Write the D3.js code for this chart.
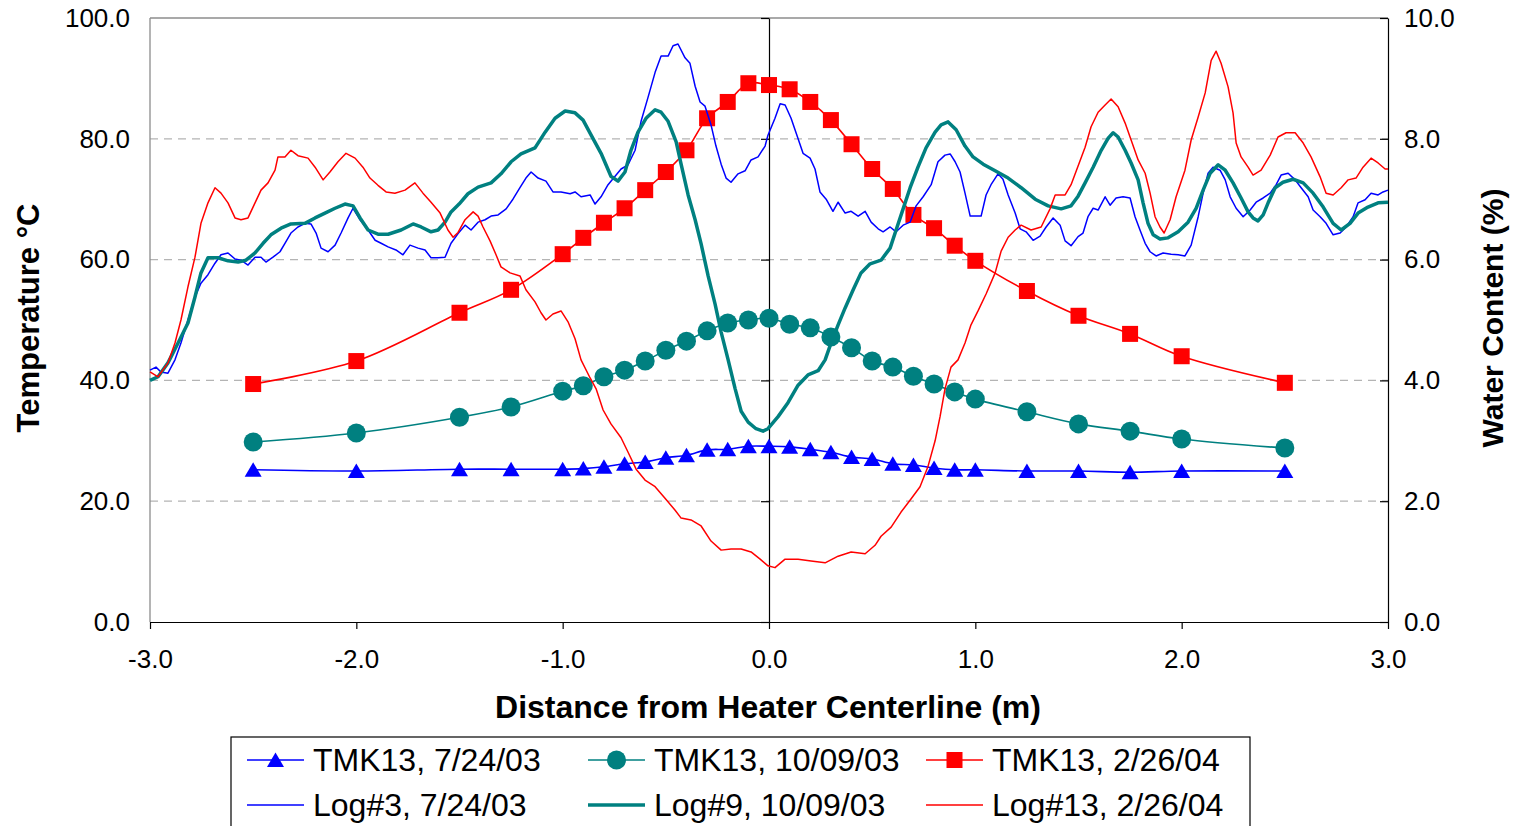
<!DOCTYPE html>
<html>
<head>
<meta charset="utf-8">
<script src="https://cdn.jsdelivr.net/npm/d3@7"></script>
<style>
  body { margin: 0; background: #fff; }
  svg { font-family: "Liberation Sans", Arial, sans-serif; }
</style>
</head>
<body>
<svg id="chart" width="1520" height="826"></svg>
<script>
// distance of the thermocouple readings (m)
const tmkX = [-2.5, -2.0, -1.5, -1.25, -1.0, -0.9, -0.8, -0.7, -0.6, -0.5, -0.4, -0.3, -0.2, -0.1, 0.0,
              0.1, 0.2, 0.3, 0.4, 0.5, 0.6, 0.7, 0.8, 0.9, 1.0, 1.25, 1.5, 1.75, 2.0, 2.5];

// temperatures (deg C)
const tmk0724 = [25.2, 25.0, 25.3, 25.3, 25.3, 25.4, 25.7, 26.2, 26.5, 27.2, 27.6, 28.5, 28.6, 29.1, 29.1,
                 29.0, 28.6, 28.1, 27.3, 27.0, 26.2, 26.0, 25.5, 25.2, 25.2, 25.0, 25.0, 24.8, 25.0, 25.0];
const tmk1009 = [29.8, 31.3, 33.9, 35.6, 38.2, 39.1, 40.6, 41.7, 43.2, 45.0, 46.5, 48.2, 49.5, 50.0, 50.3,
                 49.3, 48.7, 47.2, 45.4, 43.2, 42.2, 40.7, 39.4, 38.1, 36.9, 34.8, 32.8, 31.6, 30.3, 28.8];
const tmk0226 = [39.4, 43.2, 51.2, 55.0, 60.9, 63.6, 66.1, 68.5, 71.5, 74.5, 78.1, 83.4, 86.1, 89.2, 88.9,
                 88.2, 86.1, 83.1, 79.1, 75.0, 71.7, 67.4, 65.2, 62.3, 59.8, 54.8, 50.7, 47.7, 44.0, 39.6];

// water content logs: [distance (m), water content (%)]
const log3 = [
  [-3.000,4.17],[-2.971,4.22],[-2.947,4.14],[-2.913,4.12],[-2.879,4.34],[-2.850,4.62],[-2.816,5.00],[-2.782,5.38],
  [-2.753,5.61],[-2.719,5.75],[-2.685,5.94],[-2.656,6.08],[-2.622,6.11],[-2.588,6.01],[-2.559,5.99],[-2.525,5.91],
  [-2.491,6.04],[-2.462,6.04],[-2.438,5.96],[-2.404,6.04],[-2.370,6.13],[-2.346,6.27],[-2.317,6.44],[-2.283,6.54],
  [-2.249,6.60],[-2.220,6.59],[-2.195,6.44],[-2.171,6.19],[-2.137,6.13],[-2.103,6.24],[-2.074,6.44],[-2.040,6.69],
  [-2.016,6.85],[-1.982,6.66],[-1.943,6.49],[-1.909,6.32],[-1.880,6.27],[-1.846,6.21],[-1.808,6.16],[-1.774,6.08],
  [-1.740,6.24],[-1.701,6.19],[-1.667,6.16],[-1.638,6.03],[-1.604,6.03],[-1.570,6.04],[-1.541,6.27],[-1.507,6.43],
  [-1.473,6.57],[-1.444,6.49],[-1.410,6.62],[-1.376,6.66],[-1.347,6.72],[-1.313,6.74],[-1.274,6.84],[-1.241,7.00],
  [-1.207,7.19],[-1.178,7.35],[-1.153,7.45],[-1.119,7.35],[-1.081,7.30],[-1.047,7.12],[-1.008,7.12],[-0.964,7.09],
  [-0.940,7.12],[-0.911,7.04],[-0.867,7.07],[-0.843,6.92],[-0.814,7.04],[-0.780,7.24],[-0.746,7.38],[-0.717,7.50],
  [-0.683,7.57],[-0.649,7.81],[-0.620,8.29],[-0.586,8.69],[-0.552,9.10],[-0.523,9.37],[-0.489,9.37],[-0.465,9.54],
  [-0.441,9.57],[-0.407,9.34],[-0.383,9.25],[-0.358,8.87],[-0.334,8.61],[-0.310,8.54],[-0.281,8.23],[-0.257,7.88],
  [-0.232,7.58],[-0.208,7.35],[-0.184,7.28],[-0.150,7.42],[-0.116,7.47],[-0.087,7.65],[-0.053,7.70],[-0.019,7.88],
  [-0.005,8.06],[0.029,8.34],[0.054,8.58],[0.078,8.56],[0.107,8.34],[0.141,8.00],[0.165,7.76],[0.199,7.68],
  [0.223,7.50],[0.247,7.12],[0.277,7.00],[0.310,6.80],[0.335,6.95],[0.369,6.77],[0.398,6.80],[0.432,6.72],
  [0.466,6.80],[0.495,6.62],[0.529,6.51],[0.553,6.46],[0.587,6.54],[0.616,6.46],[0.650,6.57],[0.684,6.62],
  [0.713,6.89],[0.747,7.04],[0.786,7.24],[0.819,7.62],[0.853,7.73],[0.878,7.75],[0.902,7.62],[0.926,7.45],
  [0.950,7.10],[0.975,6.72],[0.999,6.72],[1.028,6.72],[1.052,7.07],[1.076,7.24],[1.110,7.42],[1.134,7.33],
  [1.159,7.07],[1.193,6.77],[1.217,6.51],[1.246,6.46],[1.280,6.32],[1.314,6.39],[1.343,6.54],[1.377,6.69],
  [1.411,6.57],[1.435,6.31],[1.464,6.23],[1.498,6.38],[1.522,6.44],[1.546,6.71],[1.571,6.85],[1.595,6.82],
  [1.629,7.04],[1.653,6.90],[1.682,7.02],[1.716,7.04],[1.750,7.02],[1.774,6.71],[1.798,6.49],[1.823,6.27],
  [1.847,6.13],[1.876,6.06],[1.910,6.11],[1.949,6.09],[1.983,6.08],[2.016,6.06],[2.046,6.24],[2.080,6.71],
  [2.104,7.10],[2.128,7.43],[2.152,7.53],[2.186,7.48],[2.211,7.32],[2.235,7.04],[2.264,6.85],[2.298,6.71],
  [2.332,6.82],[2.361,6.95],[2.395,7.02],[2.429,7.10],[2.458,7.24],[2.482,7.40],[2.516,7.43],[2.550,7.32],
  [2.579,7.19],[2.613,7.04],[2.637,6.82],[2.671,6.71],[2.700,6.60],[2.734,6.41],[2.768,6.44],[2.797,6.54],
  [2.831,6.71],[2.855,6.94],[2.889,6.99],[2.918,7.10],[2.952,7.07],[2.976,7.12],[3.000,7.15]
];
const log9 = [
  [-3.000,4.00],[-2.961,4.06],[-2.913,4.29],[-2.864,4.62],[-2.816,4.95],[-2.782,5.38],[-2.753,5.78],[-2.719,6.03],
  [-2.670,6.03],[-2.622,5.98],[-2.573,5.96],[-2.535,5.99],[-2.491,6.11],[-2.452,6.27],[-2.414,6.41],[-2.365,6.52],
  [-2.317,6.59],[-2.249,6.60],[-2.200,6.69],[-2.152,6.77],[-2.103,6.85],[-2.055,6.92],[-2.016,6.89],[-1.982,6.69],
  [-1.943,6.49],[-1.895,6.42],[-1.846,6.42],[-1.783,6.49],[-1.725,6.59],[-1.686,6.54],[-1.638,6.46],[-1.604,6.49],
  [-1.570,6.62],[-1.541,6.79],[-1.502,6.92],[-1.459,7.09],[-1.410,7.20],[-1.347,7.27],[-1.299,7.42],[-1.250,7.62],
  [-1.202,7.75],[-1.134,7.85],[-1.085,8.11],[-1.037,8.34],[-0.988,8.46],[-0.940,8.43],[-0.901,8.31],[-0.862,8.06],
  [-0.814,7.76],[-0.766,7.38],[-0.732,7.30],[-0.698,7.45],[-0.669,7.81],[-0.635,8.11],[-0.596,8.34],[-0.552,8.48],
  [-0.523,8.44],[-0.489,8.29],[-0.450,7.95],[-0.426,7.58],[-0.392,7.07],[-0.358,6.66],[-0.329,6.26],[-0.295,5.73],
  [-0.261,5.26],[-0.232,4.80],[-0.198,4.34],[-0.164,3.86],[-0.135,3.49],[-0.101,3.31],[-0.063,3.20],[-0.029,3.16],
  [-0.005,3.20],[0.044,3.40],[0.092,3.63],[0.141,3.92],[0.189,4.09],[0.238,4.16],[0.272,4.34],[0.301,4.62],
  [0.335,4.92],[0.369,5.20],[0.408,5.50],[0.446,5.78],[0.490,5.93],[0.543,5.99],[0.587,6.19],[0.616,6.49],
  [0.650,6.84],[0.684,7.19],[0.722,7.53],[0.761,7.85],[0.805,8.11],[0.834,8.23],[0.868,8.28],[0.907,8.15],
  [0.950,7.88],[0.989,7.70],[1.038,7.58],[1.096,7.47],[1.159,7.35],[1.222,7.19],[1.290,7.00],[1.353,6.89],
  [1.416,6.84],[1.464,6.89],[1.498,7.05],[1.532,7.27],[1.571,7.53],[1.610,7.81],[1.644,8.01],[1.668,8.10],
  [1.692,8.03],[1.726,7.81],[1.755,7.60],[1.789,7.32],[1.813,6.94],[1.837,6.60],[1.862,6.41],[1.895,6.34],
  [1.934,6.36],[1.983,6.46],[2.031,6.62],[2.070,6.85],[2.104,7.15],[2.138,7.43],[2.177,7.57],[2.211,7.48],
  [2.249,7.27],[2.288,7.02],[2.322,6.79],[2.346,6.69],[2.370,6.64],[2.395,6.74],[2.419,6.94],[2.453,7.19],
  [2.491,7.28],[2.540,7.33],[2.589,7.27],[2.637,7.10],[2.686,6.87],[2.734,6.60],[2.773,6.49],[2.816,6.60],
  [2.855,6.77],[2.903,6.87],[2.952,6.94],[3.000,6.95]
];
const log13 = [
  [-3.000,4.14],[-2.961,4.06],[-2.913,4.29],[-2.879,4.62],[-2.850,5.00],[-2.816,5.55],[-2.782,6.04],[-2.753,6.60],
  [-2.719,6.94],[-2.685,7.19],[-2.656,7.10],[-2.622,6.94],[-2.588,6.69],[-2.559,6.66],[-2.525,6.69],[-2.491,6.94],
  [-2.462,7.15],[-2.428,7.27],[-2.394,7.48],[-2.380,7.70],[-2.346,7.70],[-2.317,7.81],[-2.283,7.72],[-2.234,7.68],
  [-2.200,7.53],[-2.161,7.32],[-2.128,7.45],[-2.089,7.62],[-2.050,7.76],[-2.006,7.68],[-1.968,7.53],[-1.934,7.35],
  [-1.895,7.23],[-1.856,7.12],[-1.813,7.10],[-1.764,7.15],[-1.716,7.27],[-1.677,7.10],[-1.638,6.95],[-1.594,6.77],
  [-1.556,6.49],[-1.531,6.37],[-1.507,6.45],[-1.473,6.66],[-1.434,6.79],[-1.410,6.72],[-1.386,6.54],[-1.352,6.31],
  [-1.323,6.08],[-1.299,5.88],[-1.255,5.78],[-1.207,5.73],[-1.178,5.50],[-1.134,5.30],[-1.105,5.12],[-1.081,5.00],
  [-1.047,5.10],[-1.008,5.15],[-0.974,4.97],[-0.940,4.69],[-0.911,4.34],[-0.867,4.04],[-0.838,3.86],[-0.804,3.51],
  [-0.766,3.28],[-0.717,3.05],[-0.683,2.81],[-0.644,2.53],[-0.601,2.35],[-0.552,2.24],[-0.504,2.05],[-0.455,1.85],
  [-0.426,1.72],[-0.378,1.69],[-0.329,1.59],[-0.281,1.34],[-0.232,1.19],[-0.184,1.21],[-0.135,1.21],[-0.087,1.16],
  [-0.043,1.04],[-0.005,0.93],[0.029,0.90],[0.078,1.04],[0.141,1.04],[0.204,1.01],[0.272,0.98],[0.335,1.09],
  [0.398,1.16],[0.466,1.13],[0.514,1.27],[0.543,1.42],[0.592,1.57],[0.640,1.82],[0.689,2.04],[0.732,2.24],
  [0.771,2.58],[0.805,3.00],[0.829,3.40],[0.853,3.86],[0.882,4.22],[0.916,4.34],[0.950,4.62],[0.979,4.92],
  [1.013,5.15],[1.052,5.43],[1.096,5.78],[1.125,6.14],[1.159,6.37],[1.193,6.49],[1.222,6.57],[1.270,6.49],
  [1.319,6.54],[1.362,6.84],[1.387,7.07],[1.435,7.07],[1.464,7.24],[1.498,7.55],[1.532,7.86],[1.561,8.20],
  [1.595,8.44],[1.629,8.56],[1.658,8.66],[1.692,8.53],[1.726,8.26],[1.755,7.98],[1.789,7.65],[1.823,7.43],
  [1.847,7.10],[1.871,6.71],[1.895,6.54],[1.915,6.44],[1.944,6.66],[1.973,7.04],[2.016,7.48],[2.046,7.98],
  [2.080,8.36],[2.114,8.76],[2.143,9.30],[2.167,9.45],[2.191,9.25],[2.225,8.86],[2.249,8.43],[2.264,7.93],
  [2.288,7.70],[2.322,7.53],[2.346,7.40],[2.385,7.48],[2.429,7.73],[2.467,8.03],[2.506,8.10],[2.550,8.10],
  [2.589,7.93],[2.627,7.70],[2.671,7.37],[2.700,7.10],[2.734,7.07],[2.773,7.19],[2.807,7.32],[2.845,7.35],
  [2.879,7.53],[2.918,7.68],[2.952,7.60],[2.986,7.50],[3.000,7.50]
];

const xTicks = [-3, -2, -1, 0, 1, 2, 3];
const tempTicks = [0, 20, 40, 60, 80, 100];
const waterTicks = [0, 2, 4, 6, 8, 10];

const BLUE = "#0000ff", TEAL = "#008080", RED = "#ff0000";

const svg = d3.select("#chart");
const plotLeft = 150, plotRight = 1388, plotTop = 18, plotBottom = 622;

const x = d3.scaleLinear().domain([-3, 3]).range([plotLeft, plotRight]);
const yT = d3.scaleLinear().domain([0, 100]).range([plotBottom, plotTop]);
const yW = d3.scaleLinear().domain([0, 10]).range([plotBottom, plotTop]);
const fmt = d => d.toFixed(1);  // plain hyphen for negatives

// gridlines
svg.append("g")
    .selectAll("line")
    .data(tempTicks.filter(d => d > 0 && d < 100))
    .join("line")
    .attr("x1", plotLeft).attr("x2", plotRight)
    .attr("y1", d => yT(d)).attr("y2", d => yT(d))
    .attr("stroke", "#b4b4b4")
    .attr("stroke-width", 1.3)
    .attr("stroke-dasharray", "8,6");

// plot border (left and top in grey)
svg.append("line").attr("x1", plotLeft).attr("x2", plotLeft).attr("y1", plotTop).attr("y2", plotBottom)
    .attr("stroke", "#8c8c8c").attr("stroke-width", 1.3);
svg.append("line").attr("x1", plotLeft).attr("x2", plotRight).attr("y1", plotTop).attr("y2", plotTop)
    .attr("stroke", "#8c8c8c").attr("stroke-width", 1.3);

// left tick labels
const leftAxis = svg.append("g")
    .attr("transform", `translate(${plotLeft},0)`)
    .call(d3.axisLeft(yT).tickValues(tempTicks).tickFormat(fmt).tickSize(0).tickPadding(20));
leftAxis.select(".domain").remove();

// primary axis crossing at x = 0
const midAxis = svg.append("g")
    .attr("transform", `translate(${x(0)},0)`)
    .call(d3.axisLeft(yT).tickValues(tempTicks).tickFormat("").tickSizeInner(8).tickSizeOuter(0));

// secondary axis on the right
const rightAxis = svg.append("g")
    .attr("transform", `translate(${plotRight},0)`)
    .call(d3.axisRight(yW).tickValues(waterTicks).tickFormat(fmt).tickSizeInner(-8).tickSizeOuter(0).tickPadding(16));

// bottom axis
const xAxis = svg.append("g")
    .attr("transform", `translate(0,${plotBottom})`)
    .call(d3.axisBottom(x).tickValues(xTicks).tickFormat(fmt).tickSizeInner(7).tickSizeOuter(0).tickPadding(21));

[leftAxis, midAxis, rightAxis, xAxis].forEach(g => {
    g.selectAll("text").attr("font-size", 26).attr("fill", "#000")
        .attr("font-family", "'Liberation Sans', Arial, sans-serif");
    g.selectAll("line").attr("stroke", "#000").attr("stroke-width", 1.2);
    g.selectAll(".domain").attr("stroke", "#000").attr("stroke-width", 1.2);
});

// axis titles
svg.append("text")
    .attr("x", 768).attr("y", 718)
    .attr("text-anchor", "middle")
    .attr("font-size", 32).attr("font-weight", "bold")
    .text("Distance from Heater Centerline (m)");
svg.append("text")
    .attr("transform", "translate(39,318) rotate(-90)")
    .attr("text-anchor", "middle")
    .attr("font-size", 31).attr("font-weight", "bold")
    .text("Temperature °C");
svg.append("text")
    .attr("transform", "translate(1503,318) rotate(-90)")
    .attr("text-anchor", "middle")
    .attr("font-size", 30).attr("font-weight", "bold")
    .text("Water Content (%)");

// marker shapes
const triangle = "M0,-7.5L8.5,7L-8.5,7Z";
function drawMarker(g, type, color) {
    if (type === "tri") g.append("path").attr("d", triangle).attr("fill", color);
    else if (type === "circle") g.append("circle").attr("r", 9.5).attr("fill", color);
    else g.append("rect").attr("x", -8).attr("y", -8).attr("width", 16).attr("height", 16).attr("fill", color);
}

const tmkSeries = [
    { name: "TMK13, 7/24/03", values: tmk0724, color: BLUE, marker: "tri" },
    { name: "TMK13, 10/09/03", values: tmk1009, color: TEAL, marker: "circle" },
    { name: "TMK13, 2/26/04", values: tmk0226, color: RED, marker: "square" }
];
const logSeries = [
    { name: "Log#3, 7/24/03", values: log3, color: BLUE, width: 1.5 },
    { name: "Log#9, 10/09/03", values: log9, color: TEAL, width: 3.5 },
    { name: "Log#13, 2/26/04", values: log13, color: RED, width: 1.5 }
];

const smooth = d3.line()
    .x(d => x(d[0])).y(d => yT(d[1]))
    .curve(d3.curveCatmullRom.alpha(0.5));

tmkSeries.forEach(s => {
    const pts = tmkX.map((d, i) => [d, s.values[i]]);
    svg.append("path")
        .datum(pts)
        .attr("d", smooth)
        .attr("fill", "none")
        .attr("stroke", s.color)
        .attr("stroke-width", 1.6);
    svg.append("g").selectAll("g")
        .data(pts)
        .join("g")
        .attr("transform", d => `translate(${x(d[0])},${yT(d[1])})`)
        .each(function () { drawMarker(d3.select(this), s.marker, s.color); });
});

const logLine = d3.line().x(d => x(d[0])).y(d => yW(d[1]));
logSeries.forEach(s => {
    svg.append("path")
        .datum(s.values)
        .attr("d", logLine)
        .attr("fill", "none")
        .attr("stroke", s.color)
        .attr("stroke-width", s.width)
        .attr("stroke-linejoin", "round");
});

// legend
const legend = svg.append("g");
legend.append("rect")
    .attr("x", 231).attr("y", 737).attr("width", 1019).attr("height", 100)
    .attr("fill", "#fff").attr("stroke", "#000").attr("stroke-width", 1.2);

const colX = [247, 588, 926];
const rowY = [760, 805];
tmkSeries.forEach((s, i) => {
    const g = legend.append("g").attr("transform", `translate(${colX[i]},${rowY[0]})`);
    g.append("line").attr("x1", 0).attr("x2", 57).attr("stroke", s.color).attr("stroke-width", 1.6);
    drawMarker(g.append("g").attr("transform", "translate(28.5,0)"), s.marker, s.color);
    g.append("text").attr("x", 66).attr("y", 11).attr("font-size", 32).text(s.name);
});
logSeries.forEach((s, i) => {
    const g = legend.append("g").attr("transform", `translate(${colX[i]},${rowY[1]})`);
    g.append("line").attr("x1", 0).attr("x2", 57).attr("stroke", s.color).attr("stroke-width", s.width);
    g.append("text").attr("x", 66).attr("y", 11).attr("font-size", 32).text(s.name);
});
</script>
</body>
</html>
